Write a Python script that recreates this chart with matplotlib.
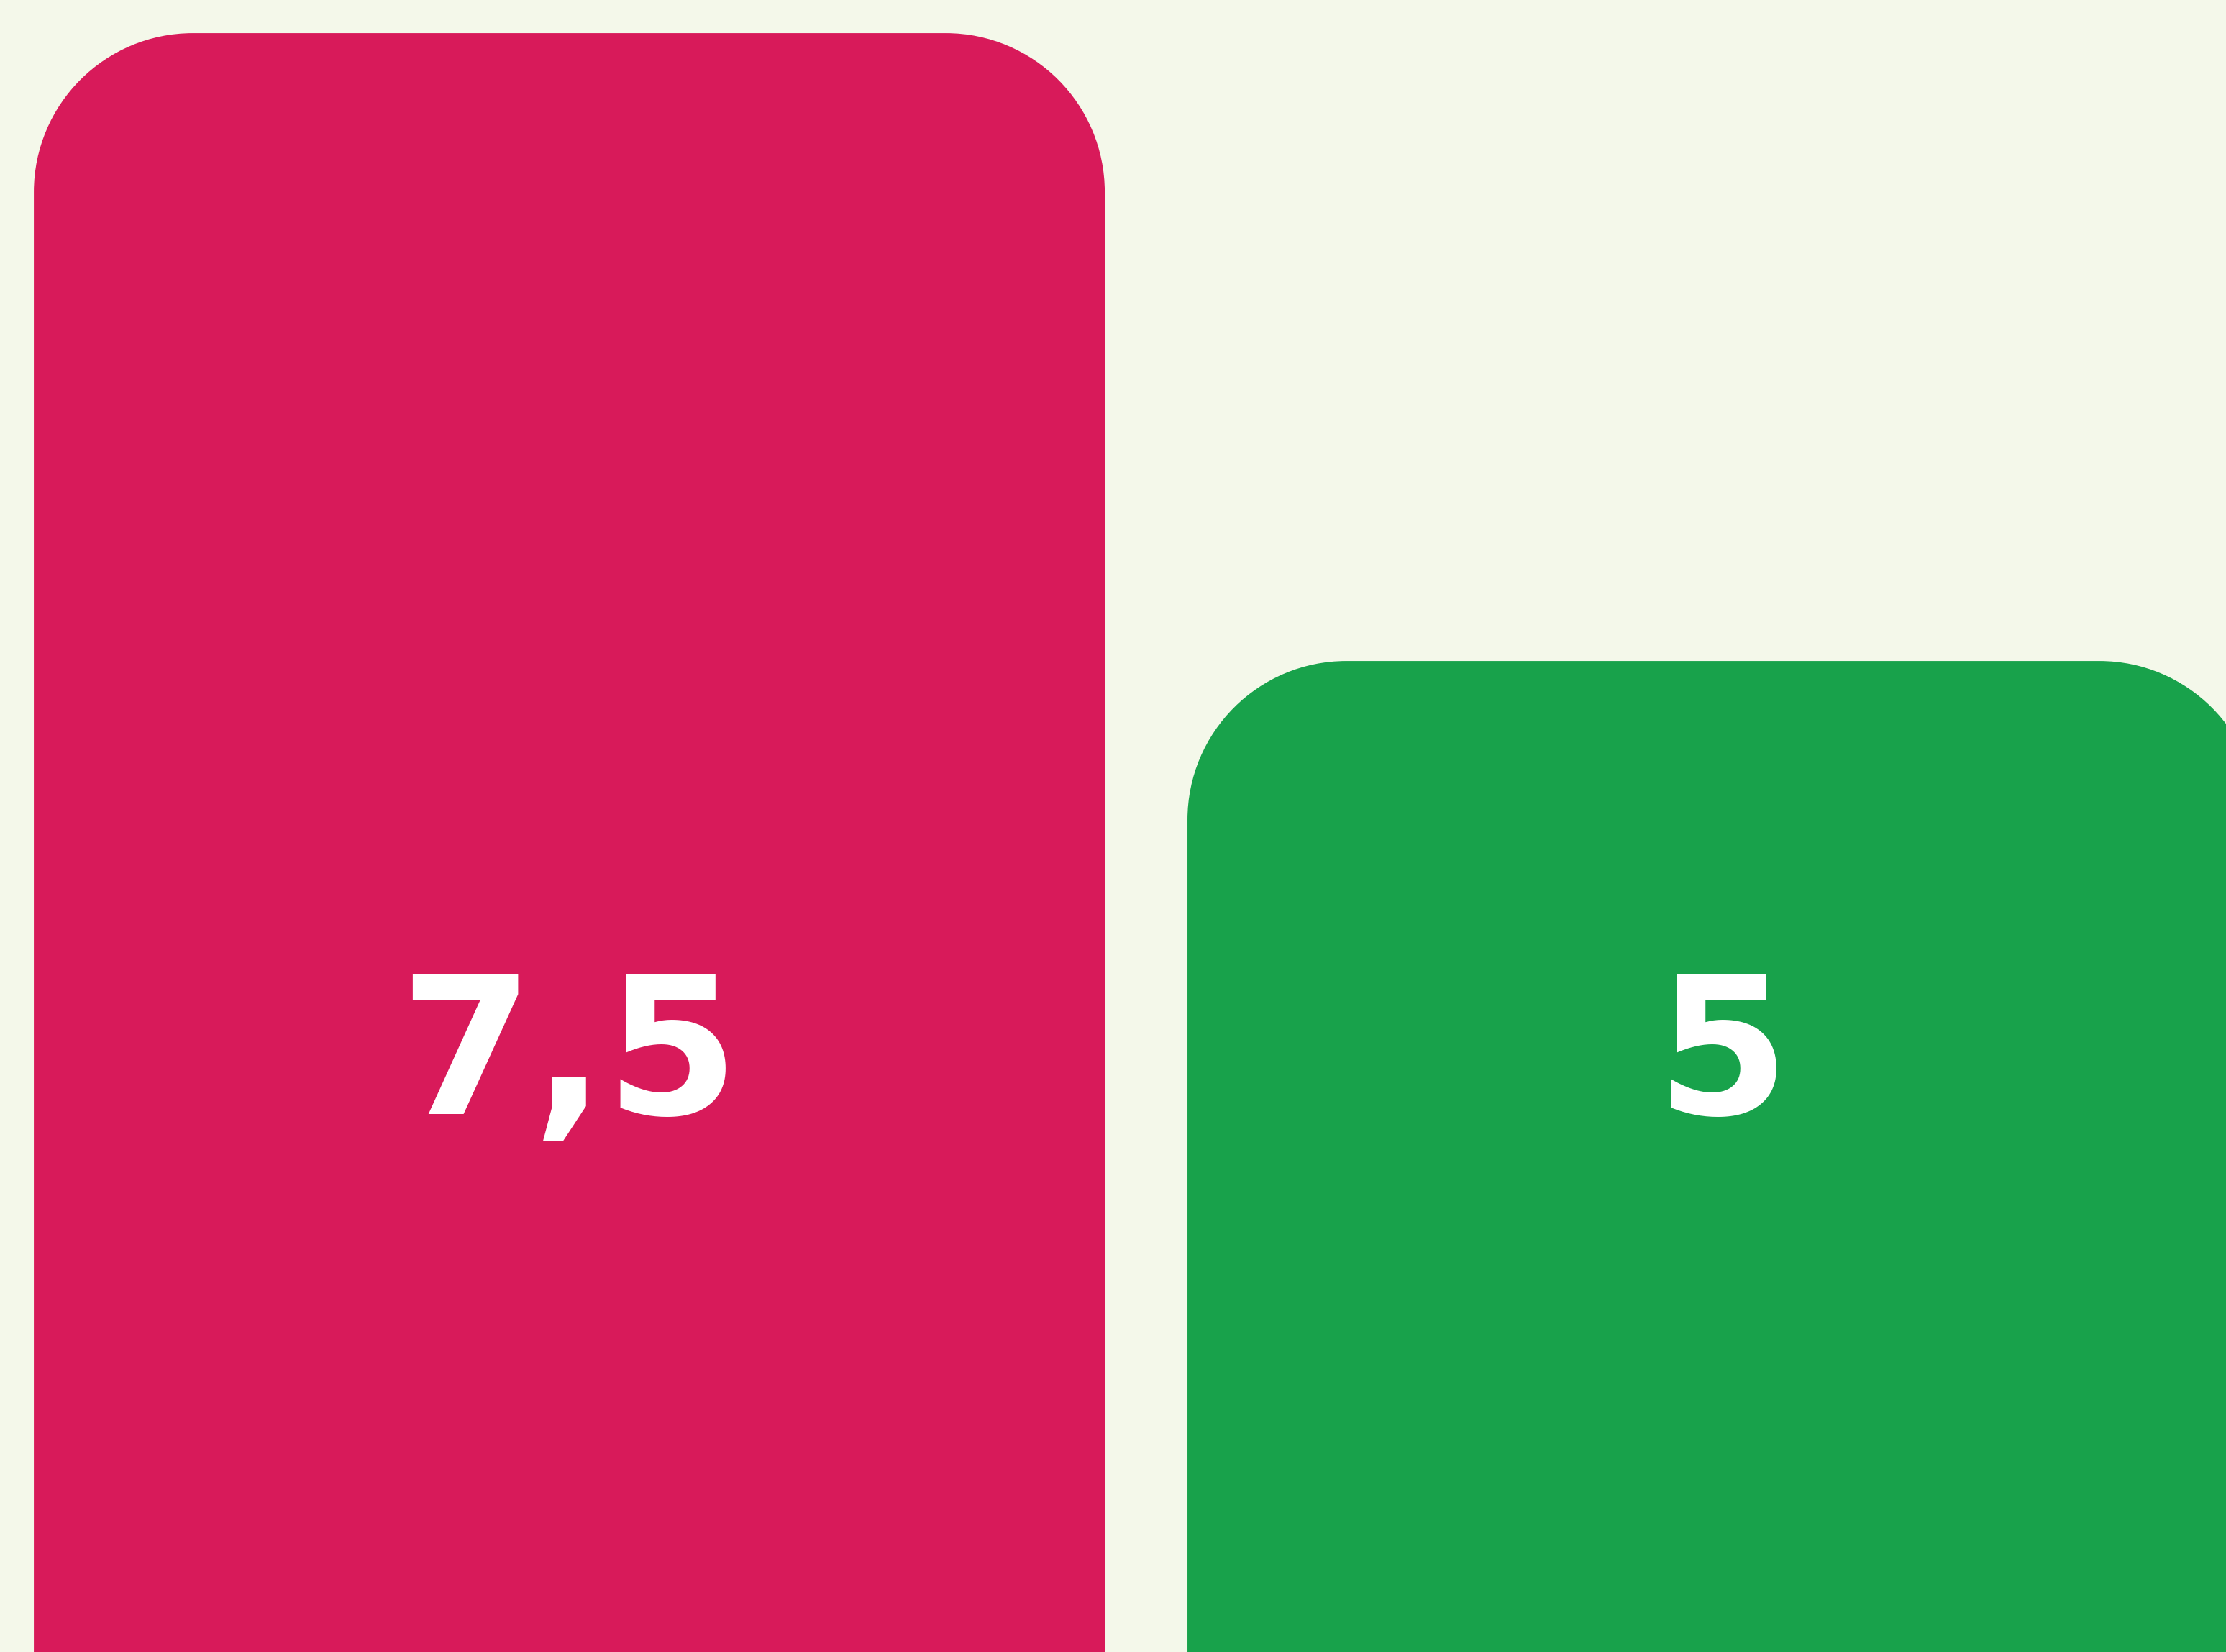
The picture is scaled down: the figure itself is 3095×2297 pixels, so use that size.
import matplotlib
matplotlib.use("Agg")
import matplotlib.pyplot as plt
from matplotlib.path import Path
from matplotlib.patches import PathPatch
import matplotlib.transforms as mtransforms

# ---- data ----
categories = ["A", "B"]
values = [7.5, 5]
labels = ["7,5", "5"]
colors = ["#D81A5A", "#18A24B"]

# ---- style / layout ----
BG = "#F4F8EA"
W_PX, H_PX, DPI = 3095, 2297, 100
bar_width = 0.9283
xlim = (-0.4935, 1.4361)
ylim = (1.054, 7.632)
corner_px = 221
label_y_frac = 1 - 1549 / H_PX  # baseline of label text in axes fraction

fig = plt.figure(figsize=(W_PX / DPI, H_PX / DPI), dpi=DPI, facecolor=BG)
ax = fig.add_axes([0, 0, 1, 1])
ax.set_facecolor(BG)
ax.set_xlim(*xlim)
ax.set_ylim(*ylim)
ax.axis("off")

px_per_x = W_PX / (xlim[1] - xlim[0])
px_per_y = H_PX / (ylim[1] - ylim[0])
rx = corner_px / px_per_x
ry = corner_px / px_per_y
k = 0.5523


def rounded_top_bar(xc, h, w):
    x0, x1 = xc - w / 2, xc + w / 2
    verts = [
        (x0, 0), (x0, h - ry),
        (x0, h - ry + k * ry), (x0 + rx - k * rx, h), (x0 + rx, h),
        (x1 - rx, h),
        (x1 - rx + k * rx, h), (x1, h - ry + k * ry), (x1, h - ry),
        (x1, 0), (x0, 0),
    ]
    codes = [Path.MOVETO, Path.LINETO,
             Path.CURVE4, Path.CURVE4, Path.CURVE4,
             Path.LINETO,
             Path.CURVE4, Path.CURVE4, Path.CURVE4,
             Path.LINETO, Path.CLOSEPOLY]
    return Path(verts, codes)


trans = mtransforms.blended_transform_factory(ax.transData, ax.transAxes)
for i, (v, lab, c) in enumerate(zip(values, labels, colors)):
    patch = PathPatch(rounded_top_bar(i, v, bar_width), facecolor=c,
                      edgecolor="none", antialiased=True)
    ax.add_patch(patch)
    ax.text(i, label_y_frac, lab, transform=trans, ha="center", va="baseline",
            color="white", fontsize=192, fontweight="bold",
            family=["DejaVu Sans"])

fig.savefig("out.png", dpi=DPI, facecolor=BG)
